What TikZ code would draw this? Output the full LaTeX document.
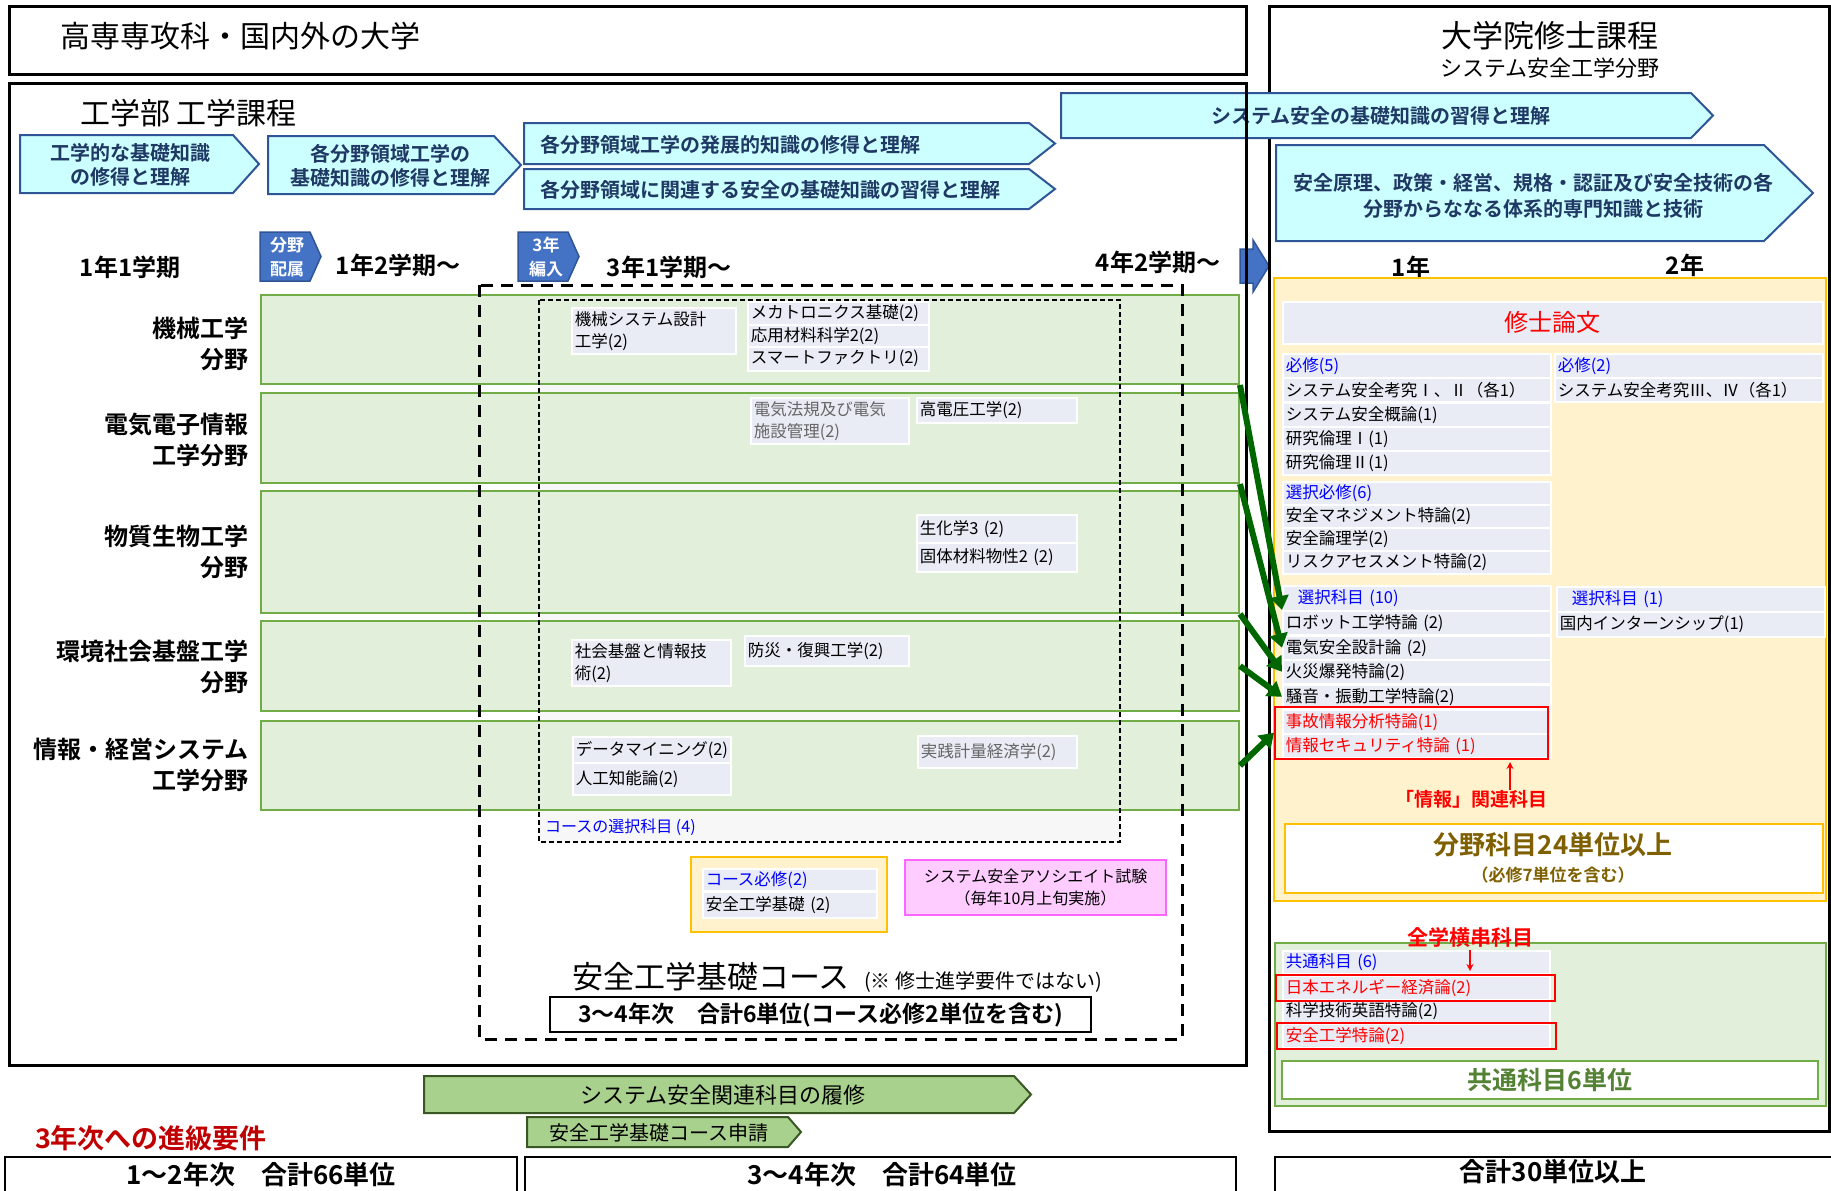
\documentclass[tikz,border=0pt]{standalone}
\usepackage{fontspec}
\setmainfont{Noto Sans CJK JP}[BoldFont={Noto Sans CJK JP Bold}]
\usetikzlibrary{arrows.meta}

\definecolor{cellc}{RGB}{233,235,245}
\definecolor{goalfill}{RGB}{204,255,255}
\definecolor{goaledge}{RGB}{47,85,151}
\definecolor{goaltext}{RGB}{31,56,100}
\definecolor{tagfill}{RGB}{68,114,196}
\definecolor{bandfill}{RGB}{226,239,218}
\definecolor{bandedge}{RGB}{112,173,71}
\definecolor{feedgreen}{RGB}{0,102,0}
\definecolor{yelfill}{RGB}{255,242,204}
\definecolor{yeledge}{RGB}{255,192,0}
\definecolor{pinkfill}{RGB}{255,204,255}
\definecolor{pinkedge}{RGB}{255,102,255}
\definecolor{flowfill}{RGB}{169,209,142}
\definecolor{flowedge}{RGB}{56,87,35}
\definecolor{unitbrown}{RGB}{127,96,0}
\definecolor{unitgreen}{RGB}{84,130,53}
\definecolor{headblue}{RGB}{0,0,255}
\definecolor{reqred}{RGB}{192,0,0}

\newcommand{\fsz}[2]{\fontsize{#1}{#2}\selectfont}

\tikzset{
  goal/.style={fill=goalfill, draw=goaledge, line width=2pt},
  goaltxt/.style={text=goaltext, font=\bfseries\fsz{20}{24}, inner sep=0pt, align=center},
  tag/.style={fill=tagfill, draw=goaledge, line width=1.5pt},
  tagtxt/.style={text=white, font=\bfseries\fsz{17}{24}, inner sep=0pt, align=center},
  term/.style={font=\bfseries\fsz{24}{28}, inner sep=0pt},
  field/.style={font=\bfseries\fsz{24}{31}, anchor=east, align=right, inner sep=0pt},
  band/.style={fill=bandfill, draw=bandedge, line width=2pt, anchor=north west, minimum width=978pt},
  course/.style={fill=cellc, draw=white, line width=1.5pt, inner xsep=3pt, inner ysep=0pt, anchor=north west, align=left, font=\fsz{16.5}{22}},
  gcourse/.style={course, text width=262pt, minimum height=24pt, font=\fsz{16.5}{20}},
  hdr/.style={text=headblue},
  feed/.style={draw=feedgreen, line width=6pt, -{Triangle[length=14pt, width=18pt]}},
  redarr/.style={draw=red, line width=2pt, -{Stealth[length=7pt, width=7pt]}},
  flow/.style={fill=flowfill, draw=flowedge, line width=2pt},
  sumbox/.style={draw, line width=2pt},
  sumtxt/.style={inner sep=0pt, font=\bfseries\fsz{26}{30}},
}

\begin{document}
\begin{tikzpicture}[x=1pt, y=-1pt]
\useasboundingbox (0,0) rectangle (1831,1191);

% arrow from faculty to graduate school
\draw[tag] (1240,249) -- (1253,249) -- (1253,240) -- (1269,266) -- (1253,292) -- (1253,283) -- (1240,283) -- cycle;

% upper frame
\draw[line width=3pt] (9,6) rectangle (1246,74);
\node[anchor=west, inner sep=0pt, font=\fsz{30}{36}] (prior) at (60,36) {高専専攻科・国内外の大学};

% graduate frame
\draw[line width=3pt] (1269,6) rectangle (1829,1131);
\node[inner sep=0pt, font=\fsz{31}{36}] (grad) at (1550,36) {大学院修士課程};
\node[inner sep=0pt, font=\fsz{22}{26}] (gradsub) at (1550,68) {システム安全工学分野};

\draw[goal] (1061,93) -- (1691,93) -- (1713,115.5) -- (1691,138) -- (1061,138) -- cycle;
\node[goaltxt] (g5) at (1381,116) {システム安全の基礎知識の習得と理解};
\draw[goal] (1276,145) -- (1764,145) -- (1813,193) -- (1764,241) -- (1276,241) -- cycle;
\node[goaltxt, font=\bfseries\fsz{20}{26}] (g6) at (1533,196) {安全原理、政策・経営、規格・認証及び安全技術の各\\分野からななる体系的専門知識と技術};

% faculty frame
\draw[line width=3pt] (9,83) rectangle (1246,1065);
\node[anchor=west, inner sep=0pt, font=\fsz{30}{36}] (faculty) at (80,113) {工学部 工学課程};

\draw[goal] (20,135) -- (233,135) -- (259,164) -- (233,193) -- (20,193) -- cycle;
\node[goaltxt] (g1) at (130,165) {工学的な基礎知識\\の修得と理解};
\draw[goal] (268,136) -- (494,136) -- (521,165) -- (494,194) -- (268,194) -- cycle;
\node[goaltxt] (g2) at (390,166) {各分野領域工学の\\基礎知識の修得と理解};
\draw[goal] (524,123) -- (1029,123) -- (1055,143.5) -- (1029,164) -- (524,164) -- cycle;
\node[goaltxt, anchor=west] (g3) at (540,145) {各分野領域工学の発展的知識の修得と理解};
\draw[goal] (524,169) -- (1029,169) -- (1055,189) -- (1029,209) -- (524,209) -- cycle;
\node[goaltxt, anchor=west] (g4) at (540,190) {各分野領域に関連する安全の基礎知識の習得と理解};

% terms
\node[term] (t11) at (130,267) {1年1学期};
\node[term] (t12) at (398,265) {1年2学期～};
\node[term] (t31) at (669,267) {3年1学期～};
\node[term] (t42) at (1158,262) {4年2学期～};
\node[term] (y1) at (1411,267) {1年};
\node[term] (y2) at (1685,265) {2年};

\draw[tag] (260,232) -- (310,232) -- (321,256.5) -- (310,281) -- (260,281) -- cycle;
\node[tagtxt] (assign) at (287,257) {分野\\配属};
\draw[tag] (518,232) -- (568,232) -- (579,256.5) -- (568,281) -- (518,281) -- cycle;
\node[tagtxt] (transfer) at (546,257) {3年\\編入};

% fields
\fill[gray!6] (539,300) rectangle (1120,842);
\node[band, minimum height=89pt] (mechband) at (260,294) {};
\node[band, minimum height=90pt] (elecband) at (260,392) {};
\node[band, minimum height=122pt] (matband) at (260,490) {};
\node[band, minimum height=90pt] (envband) at (260,620) {};
\node[band, minimum height=89pt] (infoband) at (260,720) {};

\node[field] (mech) at (249,343.5) {機械工学\\分野};
\node[field] (elec) at (249,440) {電気電子情報\\工学分野};
\node[field] (mat) at (249,551.5) {物質生物工学\\分野};
\node[field] (env) at (249,666.5) {環境社会基盤工学\\分野};
\node[field] (info) at (249,764.5) {情報・経営システム\\工学分野};

\draw[line width=1.5pt, dash pattern=on 5pt off 3pt] (539,300) rectangle (1120,842);
\draw[line width=3pt, dash pattern=on 12pt off 8pt] (479,285) rectangle (1182,1039);
\node[anchor=west, inner sep=0pt, text=headblue, font=\fsz{16}{20}] (electlbl) at (545,827) {コースの選択科目 (4)};

\node[course, text width=158pt, minimum height=46pt] (mechsys) at (571,307) {機械システム設計\\工学(2)};
\node[course, text width=175pt, minimum height=23pt] (mecha) at (747,301) {メカトロニクス基礎(2)};
\node[course, text width=175pt, minimum height=22pt] (matsci) at (747,324) {応用材料科学2(2)};
\node[course, text width=175pt, minimum height=24pt] (smart) at (747,346) {スマートファクトリ(2)};
\node[course, text width=152pt, minimum height=46pt, text=black!60] (law) at (750,397) {電気法規及び電気\\施設管理(2)};
\node[course, text width=154pt, minimum height=25pt] (hv) at (916,397) {高電圧工学(2)};
\node[course, text width=154pt, minimum height=28pt] (bio) at (916,514) {生化学3 (2)};
\node[course, text width=154pt, minimum height=29pt] (solid) at (916,542) {固体材料物性2 (2)};
\node[course, text width=153pt, minimum height=46pt] (infra) at (571,639) {社会基盤と情報技\\術(2)};
\node[course, text width=158pt, minimum height=30pt] (disaster) at (744,635) {防災・復興工学(2)};
\node[course, text width=152pt, minimum height=26pt] (mining) at (572,736) {データマイニング(2)};
\node[course, text width=152pt, minimum height=32pt] (ai) at (572,762) {人工知能論(2)};
\node[course, text width=153pt, minimum height=32pt, text=black!60] (econ) at (917,735) {実践計量経済学(2)};

% safety course
\draw[fill=yelfill, draw=yeledge, line width=2pt] (691,857) rectangle (887,932);
\node[course, text width=168pt, minimum height=22pt, hdr] (creq) at (702,868) {コース必修(2)};
\node[course, text width=168pt, minimum height=26pt] (cbasic) at (702,891) {安全工学基礎 (2)};
\node[fill=pinkfill, draw=pinkedge, line width=2pt, minimum width=261pt, minimum height=55pt, align=center, font=\fsz{16}{22}, anchor=north west] (exam) at (904,859) {システム安全アソシエイト試験\\（毎年10月上旬実施）};

\node[anchor=base west, inner sep=0pt, font=\fsz{31}{36}] (cname) at (572,988) {安全工学基礎コース};
\node[anchor=base west, inner sep=0pt, font=\fsz{20}{24}] (cnote) at (864,988) {(※ 修士進学要件ではない)};
\node[draw, line width=2pt, fill=white, minimum width=541pt, minimum height=35pt, inner sep=0pt, font=\bfseries\fsz{23}{28}] (cunits) at (820.5,1014.5) {3～4年次　合計6単位(コース必修2単位を含む)};

% flow and totals
\draw[flow] (424,1076) -- (1014,1076) -- (1031,1094.5) -- (1014,1113) -- (424,1113) -- cycle;
\node[inner sep=0pt, font=\fsz{22}{26}] (related) at (723,1095) {システム安全関連科目の履修};
\draw[flow] (527,1117) -- (788,1117) -- (801,1132) -- (788,1147) -- (527,1147) -- cycle;
\node[inner sep=0pt, font=\fsz{20}{24}] (apply) at (659,1133) {安全工学基礎コース申請};

\node[inner sep=0pt, text=reqred, font=\bfseries\fsz{27}{30}] (promo) at (151,1138) {3年次への進級要件};
\draw[sumbox] (5,1157) rectangle (517,1215);
\node[sumtxt] (u12) at (261,1175) {1～2年次　合計66単位};
\draw[sumbox] (525,1157) rectangle (1236,1215);
\node[sumtxt] (u34) at (882,1175) {3～4年次　合計64単位};
\draw[sumbox] (1275,1157) rectangle (1845,1215);
\node[sumtxt] (u30) at (1553,1172) {合計30単位以上};

% graduate subjects
\draw[fill=yelfill, draw=yeledge, line width=2pt] (1274,278) rectangle (1826,901);
\node[course, text width=534pt, minimum height=42pt, align=center, text=red, font=\fsz{24}{28}] (thesis) at (1282,301) {修士論文};

\node[gcourse, hdr] (req5) at (1282,353) {必修(5)};
\node[gcourse] (sk12) at (1282,377) {システム安全考究Ⅰ、Ⅱ（各1）};
\node[gcourse] (intro) at (1282,402) {システム安全概論(1)};
\node[gcourse] (eth1) at (1282,426) {研究倫理Ⅰ(1)};
\node[gcourse] (eth2) at (1282,450) {研究倫理Ⅱ(1)};
\node[gcourse, minimum height=23pt, hdr] (sel6) at (1282,481) {選択必修(6)};
\node[gcourse, minimum height=23pt] (mgmt) at (1282,504) {安全マネジメント特論(2)};
\node[gcourse, minimum height=23pt] (logic) at (1282,527) {安全論理学(2)};
\node[gcourse, minimum height=23pt] (risk) at (1282,550) {リスクアセスメント特論(2)};
\node[gcourse, minimum height=25pt, hdr] (opt10) at (1282,585) {\hspace*{12pt}選択科目 (10)};
\node[gcourse] (robot) at (1282,610) {ロボット工学特論 (2)};
\node[gcourse] (denki) at (1282,635) {電気安全設計論 (2)};
\node[gcourse] (kasai) at (1282,659) {火災爆発特論(2)};
\node[gcourse] (souon) at (1282,684) {騒音・振動工学特論(2)};
\node[gcourse, text=red] (jiko) at (1282,709) {事故情報分析特論(1)};
\node[gcourse, text=red] (secu) at (1282,733) {情報セキュリティ特論 (1)};
\node[draw=red, line width=1.5pt, minimum width=273pt, minimum height=52pt, anchor=north west] (infobox) at (1274,706) {};

\node[gcourse, hdr] (req2) at (1554,353) {必修(2)};
\node[gcourse] (sk34) at (1554,377) {システム安全考究Ⅲ、Ⅳ（各1）};
\node[gcourse, minimum height=25pt, hdr] (opt1) at (1556,586) {\hspace*{12pt}選択科目 (1)};
\node[gcourse, minimum height=25pt] (intern) at (1556,611) {国内インターンシップ(1)};

\node[inner sep=0pt, text=red, font=\bfseries\fsz{19}{24}] (infolbl) at (1471,799) {「情報」関連科目};
\coordinate (infotip) at (1510,762);
\draw[redarr] (infolbl.north -| infotip) -- (infotip);

\node[draw=yeledge, fill=white, line width=2pt, minimum width=538pt, minimum height=69pt, anchor=north west] (fieldunits) at (1284,823) {};
\node[inner sep=0pt, text=unitbrown, font=\bfseries\fsz{26}{30}] (fu1) at (1553,845) {分野科目24単位以上};
\node[inner sep=0pt, text=unitbrown, font=\bfseries\fsz{17}{20}] (fu2) at (1553,875) {（必修7単位を含む）};

% common subjects
\draw[fill=bandfill, draw=bandedge, line width=2pt] (1275,943) rectangle (1826,1106);
\node[inner sep=0pt, text=red, font=\bfseries\fsz{21}{24}] (cross) at (1470,937) {全学横串科目};
\node[gcourse, text width=261pt, minimum height=23pt, hdr] (comm6) at (1282,950) {共通科目 (6)};
\node[gcourse, text width=261pt, text=red] (energy) at (1282,975) {日本エネルギー経済論(2)};
\node[gcourse, text width=261pt, minimum height=23pt] (english) at (1282,999) {科学技術英語特論(2)};
\node[gcourse, text width=261pt, text=red] (safeng) at (1282,1023) {安全工学特論(2)};
\draw[draw=red, line width=1.5pt] (1276,975) rectangle (1555,1001);
\draw[draw=red, line width=1.5pt] (1277,1023) rectangle (1556,1049);
\draw[redarr, shorten <=3pt, shorten >=4pt] (cross.south) -- (cross.south |- energy.north);
\node[draw=bandedge, fill=white, line width=2pt, minimum width=536pt, minimum height=38pt, anchor=north west, text=unitgreen, font=\bfseries\fsz{25}{30}] (commonunits) at (1281,1060) {共通科目6単位};

% links from fields to graduate subjects
\draw[feed] (mechband.south east) -- (robot.north west);
\draw[feed] (elecband.south east) -- (denki.west);
\draw[feed] (matband.south east) -- (kasai.west);
\draw[feed] (envband.east) -- (souon.west);
\draw[feed] (infoband.east) -- (infobox.west);
\end{tikzpicture}
\end{document}
